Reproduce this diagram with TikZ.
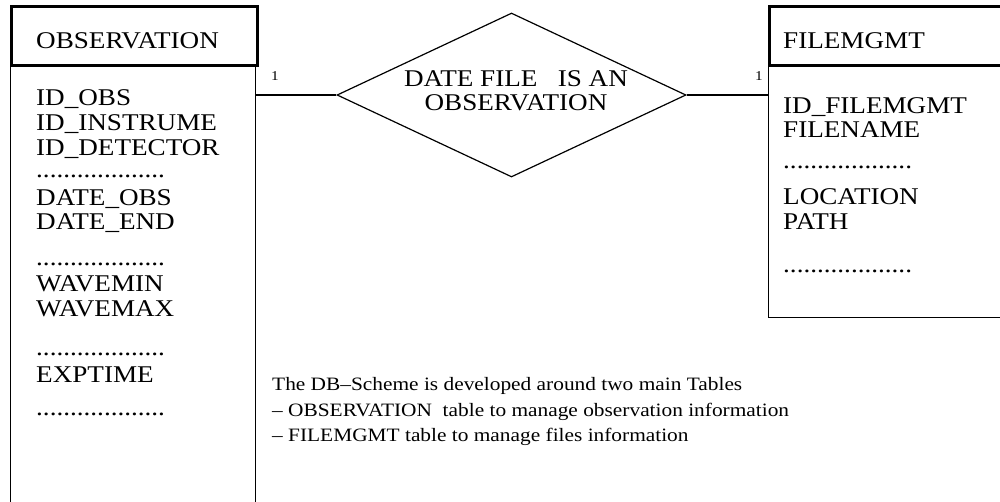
\documentclass[tikz,border=0pt]{standalone}
\usepackage{fontspec}
\setmainfont[FakeStretch=1.13]{Liberation Serif}
\usetikzlibrary{shapes.geometric}
\begin{document}
\begin{tikzpicture}[x=1pt,y=-1pt,
  item/.style={font=\fontsize{24}{25}\selectfont, anchor=base west, inner sep=0pt},
  note/.style={font=\fontsize{18.9}{25}\selectfont, anchor=base west, inner sep=0pt},
  card/.style={font=\fontsize{13.5}{15}\selectfont, anchor=base west, inner sep=0pt},
  headbox/.style={draw, line width=2.5pt, anchor=north west, inner sep=0pt, minimum height=59pt},
  bodybox/.style={draw, line width=1.2pt, anchor=north west, inner sep=0pt},
  link/.style={draw, line width=1.2pt}
]
\useasboundingbox (0,0) rectangle (1000,501);
% OBSERVATION table
\node[bodybox, minimum width=245pt, minimum height=460pt] (obsbody) at (10,64) {};
\node[headbox, minimum width=246pt] (obshead) at (10,5) {};
\node[item] (obstitle) at (36,48) {OBSERVATION};
\node[item] (o1) at (36,105) {ID\_OBS};
\node[item] (o2) at (36,130) {ID\_INSTRUME};
\node[item] (o3) at (36,155) {ID\_DETECTOR};
\node[item] (o4) at (36,177) {...................};
\node[item] (o5) at (36,205) {DATE\_OBS};
\node[item] (o6) at (36,229) {DATE\_END};
\node[item] (o7) at (36,265) {...................};
\node[item] (o8) at (36,291) {WAVEMIN};
\node[item] (o9) at (36,316) {WAVEMAX};
\node[item] (o10) at (36,355) {...................};
\node[item] (o11) at (36,382) {EXPTIME};
\node[item] (o12) at (36,415) {...................};
% FILEMGMT table
\node[bodybox, minimum width=260pt, minimum height=253pt] (fmbody) at (768,64) {};
\node[headbox, minimum width=260pt] (fmhead) at (768,5) {};
\node[item] (fmtitle) at (783,48) {FILEMGMT};
\node[item] (f1) at (783,113) {ID\_FILEMGMT};
\node[item] (f2) at (783,137) {FILENAME};
\node[item] (f3) at (783,168) {...................};
\node[item] (f4) at (783,204) {LOCATION};
\node[item] (f5) at (783,229) {PATH};
\node[item] (f6) at (783,272) {...................};
% relationship
\node[draw, line width=1.2pt, diamond, aspect=2.128, minimum width=349pt, minimum height=164pt, inner sep=0pt] (rel) at (511.5,95) {};
\node[font=\fontsize{24}{24}\selectfont, align=center, inner sep=0pt] (reltext) at (516,91)
      {DATE FILE\ \ \ IS AN\\OBSERVATION};
\draw[link] (rel.west) -- (rel.west -| obsbody.east);
\draw[link] (rel.east) -- (rel.east -| fmbody.west);
\node[card] (c1) at (271,80) {1};
\node[card] (c2) at (755,80) {1};
% note
\node[note] (n1) at (272,390) {The DB–Scheme is developed around two main Tables};
\node[note] (n2) at (272,416) {– OBSERVATION\ \ table to manage observation information};
\node[note] (n3) at (272,441) {– FILEMGMT table to manage files information};
\end{tikzpicture}
\end{document}
